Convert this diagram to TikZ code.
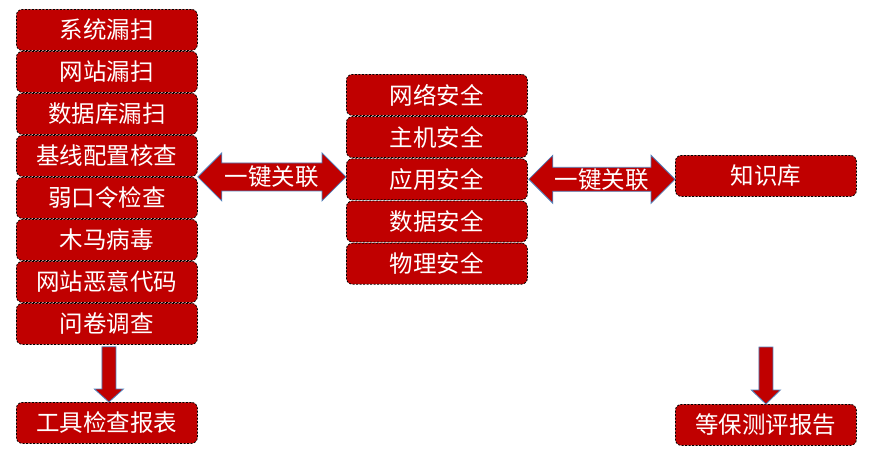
\documentclass[tikz,border=0pt]{standalone}
\usepackage{fontspec}
\newfontfamily\cjk{Noto Sans CJK SC}
\usetikzlibrary{calc}
\definecolor{boxred}{HTML}{C00000}
\definecolor{arrline}{HTML}{4F81BD}
\tikzset{
  redbox/.style={rectangle, rounded corners=6pt, fill=boxred, draw=black,
    dash pattern=on 2pt off 1.5pt, line width=0.8pt, text=white,
    font=\cjk\fontsize{23.5}{25}\selectfont, inner sep=0pt,
    minimum width=181pt, minimum height=41pt, anchor=north west},
  arrshape/.style={fill=boxred, draw=arrline, line width=0.8pt, line join=miter},
  arrtext/.style={text=white, font=\cjk\fontsize{23.5}{25}\selectfont, inner sep=0pt}
}
\begin{document}
\begin{tikzpicture}[x=1pt,y=-1pt]
\useasboundingbox[fill=white] (0,0) rectangle (874,461);
% left column
\node[redbox] (s1) at (16,9) {系统漏扫};
\node[redbox] (s2) at (16,51) {网站漏扫};
\node[redbox] (s3) at (16,93) {数据库漏扫};
\node[redbox] (s4) at (16,135) {基线配置核查};
\node[redbox] (s5) at (16,177) {弱口令检查};
\node[redbox] (s6) at (16,219) {木马病毒};
\node[redbox] (s7) at (16,261) {网站恶意代码};
\node[redbox] (s8) at (16,303) {问卷调查};
\node[redbox] (r1) at (16,402) {工具检查报表};
% middle column
\node[redbox] (m1) at (346,74) {网络安全};
\node[redbox] (m2) at (346,116.2) {主机安全};
\node[redbox] (m3) at (346,158.4) {应用安全};
\node[redbox] (m4) at (346,200.6) {数据安全};
\node[redbox] (m5) at (346,242.8) {物理安全};
% right column
\node[redbox] (k) at (675,155) {知识库};
\node[redbox] (r2) at (675,404) {等保测评报告};
% double arrow left
\coordinate (la) at ($(s4.south east)!0.5!(s5.north east)$);
\coordinate (lb) at (m3.west |- la);
\draw[arrshape] (la) -- ($(la)+(24,-24)$) -- ($(la)+(24,-14)$) -- ($(lb)+(-24,-14)$)
  -- ($(lb)+(-24,-24)$) -- (lb) -- ($(lb)+(-24,24)$) -- ($(lb)+(-24,14)$)
  -- ($(la)+(24,14)$) -- ($(la)+(24,24)$) -- cycle;
\node[arrtext] (t1) at ($(la)!0.5!(lb)$) {一键关联};
% double arrow right
\coordinate (ra) at ($(m3.east)+(1,0)$);
\coordinate (rb) at (k.west |- ra);
\draw[arrshape] (ra) -- ($(ra)+(24,-24)$) -- ($(ra)+(24,-12)$) -- ($(rb)+(-24,-12)$)
  -- ($(rb)+(-24,-24)$) -- (rb) -- ($(rb)+(-24,24)$) -- ($(rb)+(-24,12)$)
  -- ($(ra)+(24,12)$) -- ($(ra)+(24,24)$) -- cycle;
\node[arrtext] (t2) at ($(ra)!0.5!(rb)$) {一键关联};
% down arrow left
\coordinate (da) at ($(s8.south)+(2,2)$);
\coordinate (db) at ($(r1.north)+(2,0)$);
\draw[arrshape] ($(da)+(-7,0)$) -- ($(db)+(-7,-13)$) -- ($(db)+(-14.5,-13)$) -- (db)
  -- ($(db)+(14.5,-13)$) -- ($(db)+(7,-13)$) -- ($(da)+(7,0)$) -- cycle;
% down arrow right
\coordinate (ea) at ($(r2.north)+(0,-57)$);
\coordinate (eb) at (r2.north);
\draw[arrshape] ($(ea)+(-7,0)$) -- ($(eb)+(-7,-14)$) -- ($(eb)+(-14.5,-14)$) -- (eb)
  -- ($(eb)+(14.5,-14)$) -- ($(eb)+(7,-14)$) -- ($(ea)+(7,0)$) -- cycle;
\end{tikzpicture}
\end{document}
